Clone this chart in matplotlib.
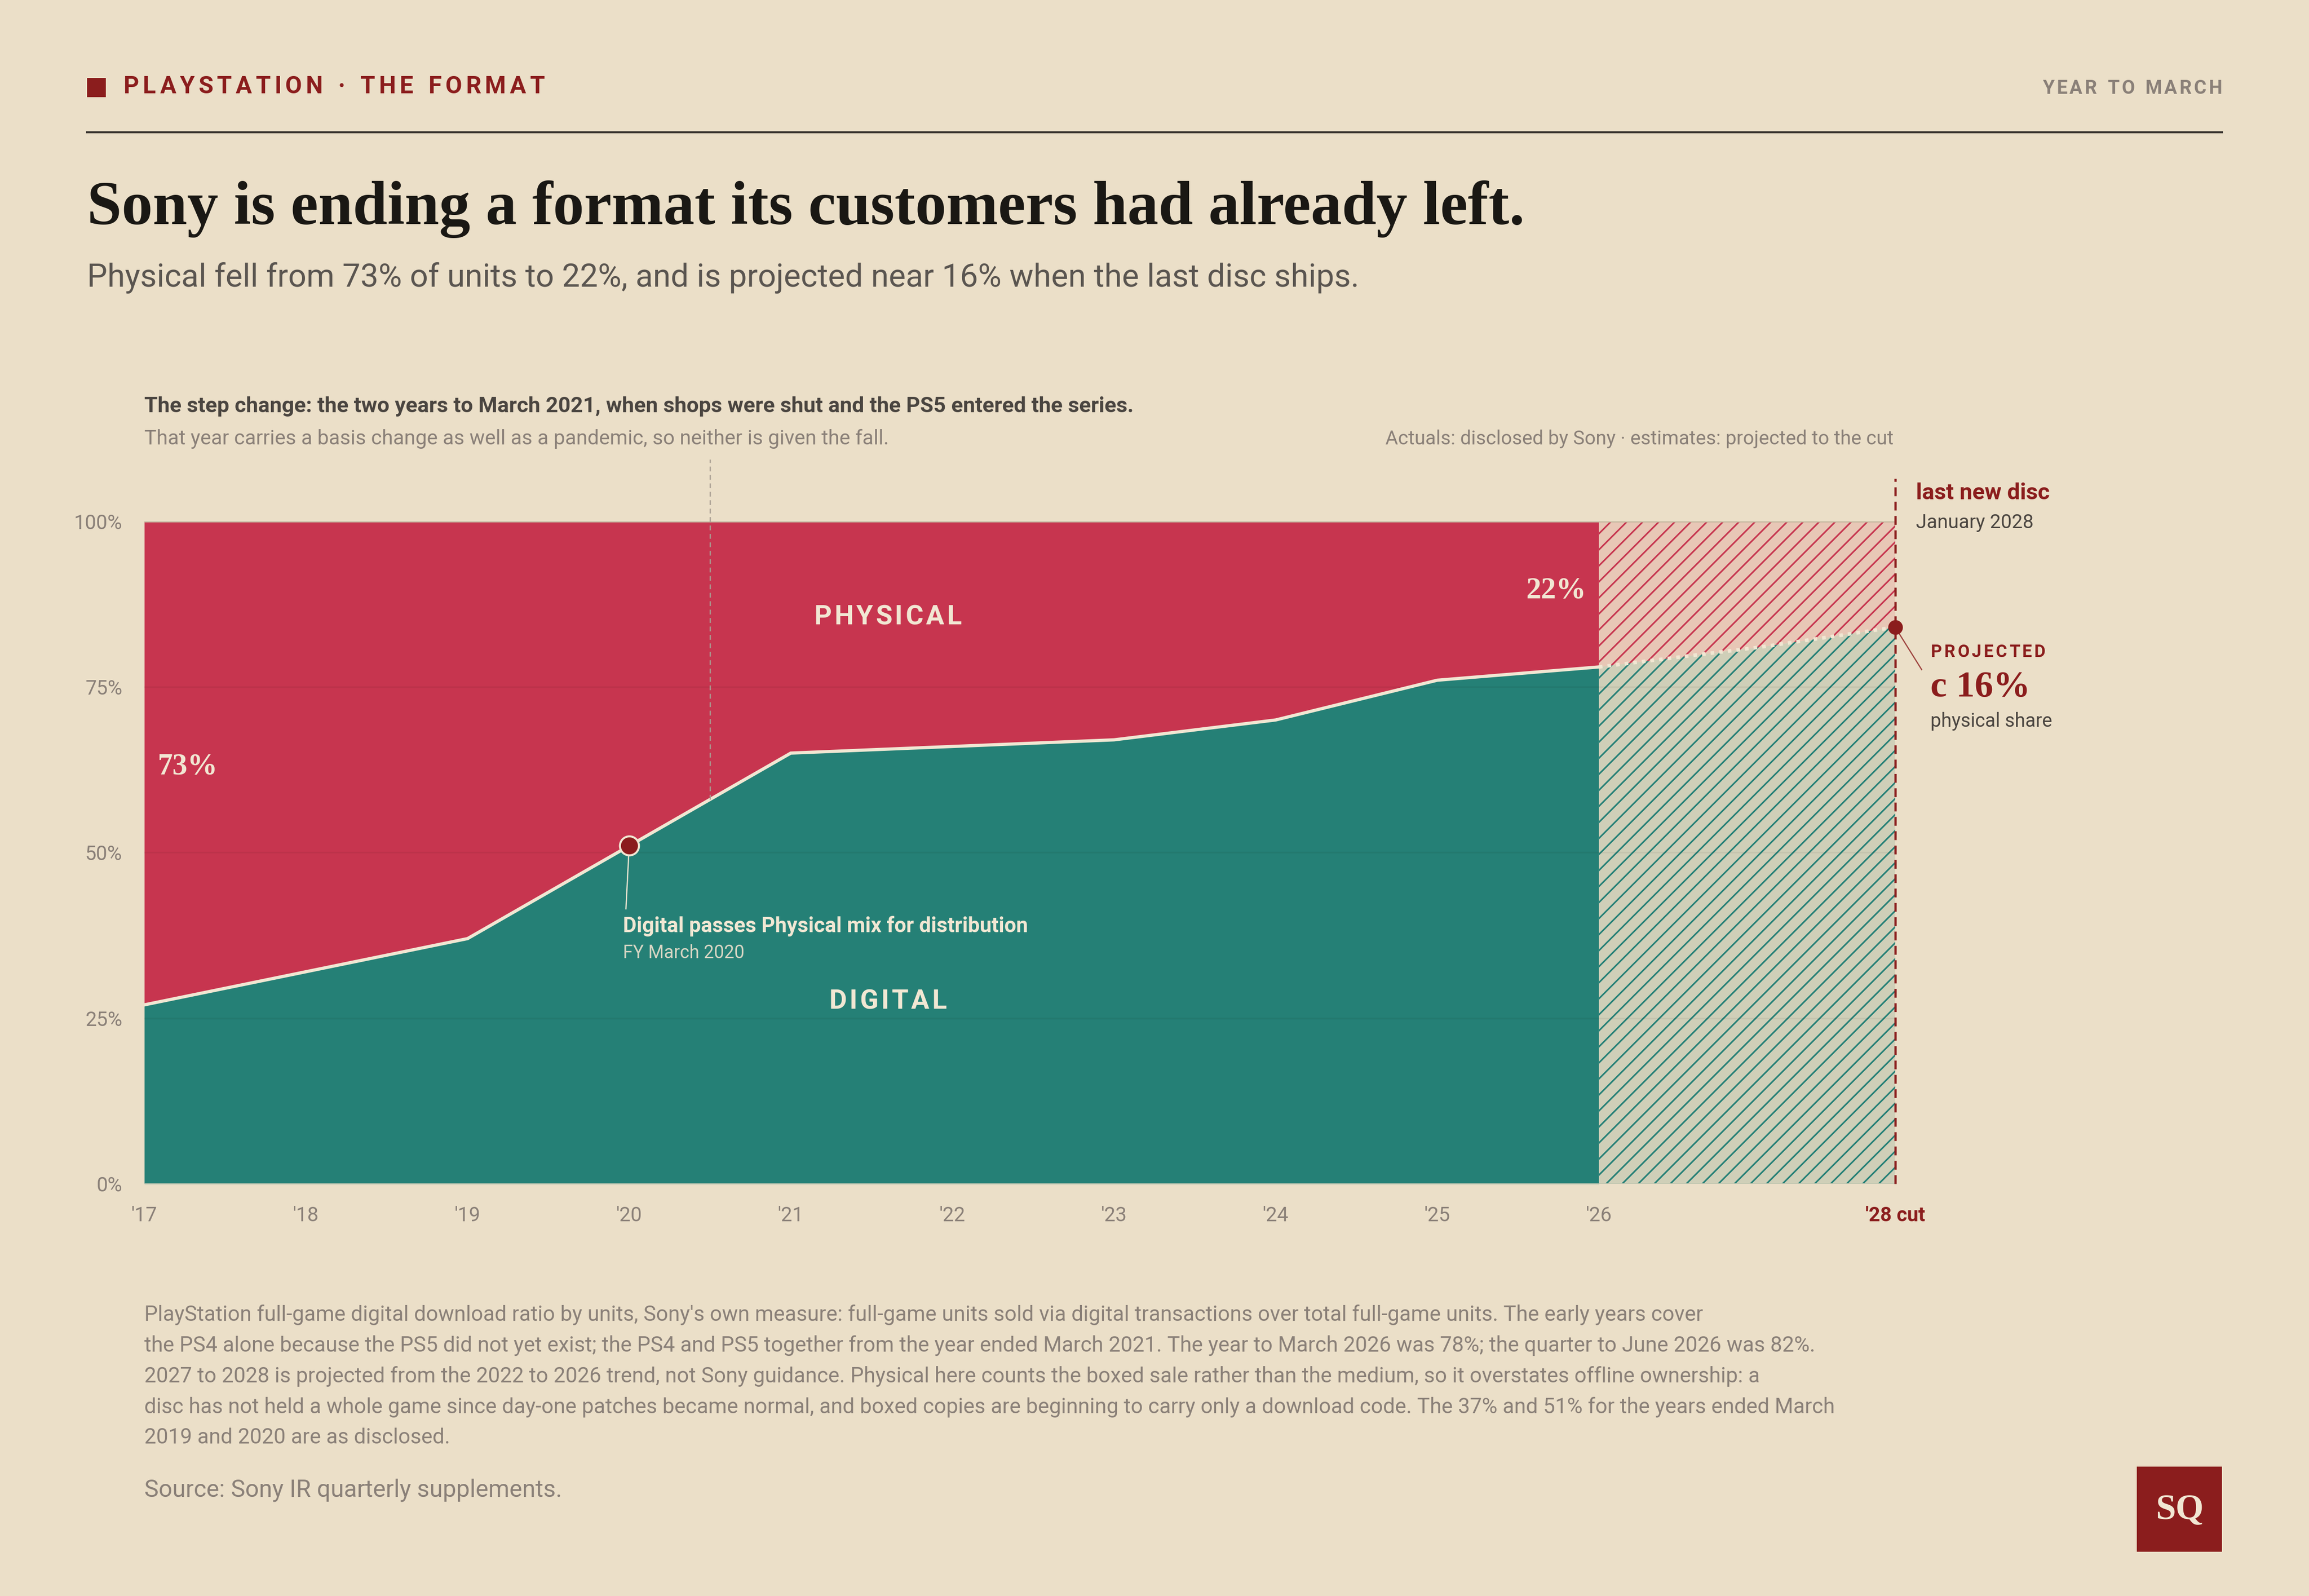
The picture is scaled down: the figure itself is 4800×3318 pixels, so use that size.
import matplotlib
matplotlib.use("Agg")
import matplotlib.pyplot as plt
import numpy as np

# colours
BG = "#ebdfc8"
RED = "#c7354f"
TEAL = "#258076"
DARKRED = "#8b1d1d"
CREAM = "#f1e7d3"
PINK_BG = "#e8c7b6"
SAGE_BG = "#cfcfb8"
GREY = "#8a8078"
DARK = "#4a4540"

SANS = "Roboto"
SERIF = "Liberation Serif"

# data: digital share of full-game units, year to March
years = [2017, 2018, 2019, 2020, 2021, 2022, 2023, 2024, 2025, 2026]
digital = [27, 32, 37, 51, 65, 66, 67, 70, 76, 78]

# projection to the cut (last new disc, January 2028)
cut = 2028 - 2 / 12
proj_years = [2026, 2027, cut]
proj_digital = [78, 81, 84]

xtick_pos = years + [cut]
xtick_labels = ["'17", "'18", "'19", "'20", "'21", "'22", "'23", "'24", "'25", "'26", "'28 cut"]
ytick_pos = [0, 25, 50, 75, 100]
ytick_labels = ["0%", "25%", "50%", "75%", "100%"]

cross_year = 2020
step_year = 2020.5

plt.rcParams["hatch.linewidth"] = 0.8
plt.rcParams["font.family"] = [SANS, "DejaVu Sans"]

# layout is measured on a 1568 x 1084 grid
W, H = 1568, 1084
def fx(px):
    return px / W
def fy(py):
    return 1 - py / H

fig = plt.figure(figsize=(16, 3318 / 300), dpi=300, facecolor=BG)
renderer = fig.canvas.get_renderer()


def spaced(x, y, s, track, ha="left", **kw):
    # letter-spaced text, x/y in figure fraction, track in grid px
    widths = []
    for ch in s:
        t = fig.text(0, 0, ch if ch != " " else "n", **kw)
        w = t.get_window_extent(renderer).width / fig.bbox.width
        if ch == " ":
            w *= 0.55
        widths.append(w)
        t.remove()
    gap = track / W
    total = sum(widths) + gap * (len(s) - 1)
    if ha == "right":
        x -= total
    elif ha == "center":
        x -= total / 2
    for ch, w in zip(s, widths):
        if ch != " ":
            fig.text(x, y, ch, ha="left", **kw)
        x += w + gap


# header
fig.patches.append(plt.Rectangle((fx(59), fy(66)), fx(13), 13 / H, transform=fig.transFigure,
                                 facecolor=DARKRED, edgecolor="none"))
spaced(fx(84), fy(59), "PLAYSTATION · THE FORMAT", 2.6, va="center",
       fontsize=12, fontweight="bold", color=DARKRED)
spaced(fx(1509), fy(60), "YEAR TO MARCH", 1.6, ha="right", va="center",
       fontsize=9.5, fontweight="bold", color=GREY)
fig.add_artist(plt.Line2D([fx(59), fx(1509)], [fy(90), fy(90)], color="#3a3530", lw=1.0))

fig.text(fx(59), fy(142), "Sony is ending a format its customers had already left.",
         fontsize=31, fontweight="bold", family=SERIF, color="#1a1814", va="center")
fig.text(fx(59), fy(189), "Physical fell from 73% of units to 22%, and is projected near 16% when the last disc ships.",
         fontsize=16, color="#5a5550", va="center")

fig.text(fx(98), fy(276), "The step change: the two years to March 2021, when shops were shut and the PS5 entered the series.",
         fontsize=10.8, fontweight="bold", color=DARK, va="center")
fig.text(fx(98), fy(298), "That year carries a basis change as well as a pandemic, so neither is given the fall.",
         fontsize=10.2, color=GREY, va="center")
fig.text(fx(1286), fy(298), "Actuals: disclosed by Sony · estimates: projected to the cut",
         fontsize=9.7, color=GREY, va="center", ha="right")

# chart
ax = fig.add_axes([fx(98), fy(804), (1287 - 98) / W, (804 - 354) / H])
ax.set_facecolor(BG)
ax.set_xlim(2017, cut)
ax.set_ylim(0, 100)
for s in ax.spines.values():
    s.set_visible(False)

ax.fill_between(years, 0, digital, color=TEAL, lw=0)
ax.fill_between(years, digital, 100, color=RED, lw=0)
ax.fill_between(proj_years, 0, proj_digital, facecolor=SAGE_BG, edgecolor=TEAL, hatch="///", lw=0)
ax.fill_between(proj_years, proj_digital, 100, facecolor=PINK_BG, edgecolor=RED, hatch="///", lw=0)

for g in [25, 50, 75]:
    ax.axhline(g, color="#000000", alpha=0.05, lw=0.8)
ax.axhline(100, color="#c2b59d", lw=0.8)
ax.axhline(0, color="#b9c2ad", lw=0.8)

ax.plot(years, digital, color=CREAM, lw=1.6, solid_joinstyle="miter")
ax.plot(proj_years, proj_digital, color=CREAM, lw=1.8, linestyle=(0, (1, 1.4)))

# step change marker
step_y = np.interp(step_year, years, digital)
ax.plot([step_year, step_year], [step_y, 109.3], color="#a89e92", lw=0.6,
        dashes=(4, 3), clip_on=False)

# crossover
cross_y = digital[years.index(cross_year)]
ax.plot([cross_year, cross_year - 0.02], [cross_y, 41.5], color=CREAM, lw=0.6)
ax.scatter([cross_year], [cross_y], s=90, facecolor=DARKRED, edgecolor=CREAM, lw=1.0, zorder=5)
ax.text(cross_year - 0.04, 38.9, "Digital passes Physical mix for distribution",
        fontsize=10.5, fontweight="bold", color=CREAM, va="center")
ax.text(cross_year - 0.04, 34.8, "FY March 2020", fontsize=9, color="#d8d6c4", va="center")

# area labels
def data_to_fig(x, y):
    return fig.transFigure.inverted().transform(ax.transData.transform((x, y)))

px_, py_ = data_to_fig(2021.6, 85.5)
spaced(px_, py_, "PHYSICAL", 1.8, ha="center", va="center", fontsize=13.5, fontweight="bold", color=CREAM)
px_, py_ = data_to_fig(2021.6, 27.5)
spaced(px_, py_, "DIGITAL", 1.8, ha="center", va="center", fontsize=13.5, fontweight="bold", color=CREAM)

ax.text(2017.08, 62.9, f"{100 - digital[0]}%", fontsize=15, fontweight="bold", family=SERIF,
        color=CREAM, va="center")
ax.text(2025.92, 89.5, f"{100 - digital[-1]}%", fontsize=15, fontweight="bold", family=SERIF,
        color=CREAM, va="center", ha="right")

# the cut
ax.plot([cut, cut], [0, 106.4], color=DARKRED, lw=1.1, dashes=(4, 2.5), clip_on=False)
ax.scatter([cut], [proj_digital[-1]], s=40, color=DARKRED, zorder=6, clip_on=False)
ax.plot([cut, 2027.997], [proj_digital[-1], 77.6], color=DARKRED, lw=0.6, alpha=0.8, clip_on=False)

fig.text(fx(1301), fy(335), "last new disc", fontsize=11.4, fontweight="bold", color=DARKRED, va="center")
fig.text(fx(1301), fy(355), "January 2028", fontsize=9.7, color=DARK, va="center")
spaced(fx(1311), fy(443), "PROJECTED", 1.6, va="center", fontsize=8.6, fontweight="bold", color=DARKRED)
fig.text(fx(1311), fy(467), f"c {100 - proj_digital[-1]}%", fontsize=18.5, fontweight="bold",
         family=SERIF, color=DARKRED, va="center")
fig.text(fx(1311), fy(490), "physical share", fontsize=9.5, color=DARK, va="center")

# ticks
ax.set_yticks(ytick_pos, ytick_labels)
ax.set_xticks(xtick_pos, xtick_labels)
ax.tick_params(axis="both", length=0, labelsize=10, labelcolor=GREY)
ax.tick_params(axis="y", pad=11)
ax.tick_params(axis="x", pad=11)
last = ax.get_xticklabels()[-1]
last.set_color(DARKRED)
last.set_fontweight("bold")

# footnote
note = ("PlayStation full-game digital download ratio by units, Sony's own measure: full-game units sold via digital transactions over total full-game units. The early years cover\n"
        "the PS4 alone because the PS5 did not yet exist; the PS4 and PS5 together from the year ended March 2021. The year to March 2026 was 78%; the quarter to June 2026 was 82%.\n"
        "2027 to 2028 is projected from the 2022 to 2026 trend, not Sony guidance. Physical here counts the boxed sale rather than the medium, so it overstates offline ownership: a\n"
        "disc has not held a whole game since day-one patches became normal, and boxed copies are beginning to carry only a download code. The 37% and 51% for the years ended March\n"
        "2019 and 2020 are as disclosed.")
fig.text(fx(98), fy(886), note, fontsize=10.6, color=GREY, va="top", linespacing=1.62)
fig.text(fx(98), fy(1012), "Source: Sony IR quarterly supplements.", fontsize=12, color=GREY, va="center")

# logo
fig.patches.append(plt.Rectangle((fx(1451), fy(1054)), fx(58), 58 / H, transform=fig.transFigure,
                                 facecolor=DARKRED, edgecolor="none"))
fig.text(fx(1480), fy(1026), "SQ", fontsize=18, fontweight="bold", family=SERIF,
         color=CREAM, ha="center", va="center")

fig.savefig("out.png", dpi=300, facecolor=BG)
